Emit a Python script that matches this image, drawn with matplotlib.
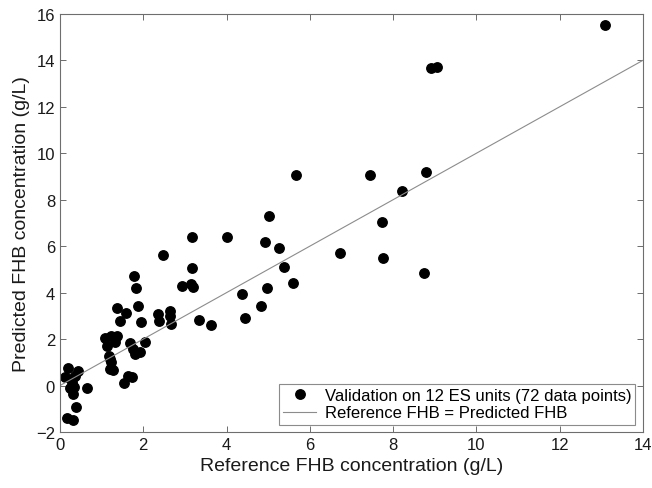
import matplotlib
matplotlib.use("Agg")
import matplotlib.pyplot as plt

plt.rcParams['font.family'] = ['Liberation Sans', 'DejaVu Sans']

ref_x = [0.19, 0.43, 0.13, 0.35, 0.29, 0.23, 0.34, 0.31, 0.66, 0.39, 0.18, 0.31, 0.27,
         1.07, 1.22, 1.37, 1.33, 1.14, 1.17, 1.22, 1.19, 1.27, 1.20,
         1.36, 1.45, 1.59,
         1.67, 1.75, 1.81, 1.91, 2.05, 1.63, 1.73, 1.53,
         1.88, 1.95, 1.78, 1.83,
         2.47, 2.35, 2.37, 2.64, 2.64, 2.66, 3.18, 3.18, 2.93, 3.15, 3.19, 3.34, 3.62,
         4.00, 4.92, 5.25, 5.03, 5.39, 4.98, 5.60, 4.37, 4.83, 4.44, 5.67,
         7.44, 8.78, 8.21, 7.73, 6.72, 7.77, 8.74, 8.90, 9.05, 13.10]
pred_y = [0.74, 0.64, 0.36, 0.42, 0.14, -0.12, -0.08, -0.36, -0.11, -0.94, -1.41, -1.47, 0.30,
          2.05, 2.12, 2.12, 1.89, 1.72, 1.29, 1.00, 0.71, 0.68, 1.15,
          3.33, 2.78, 3.11,
          1.83, 1.57, 1.36, 1.46, 1.86, 0.42, 0.36, 0.11,
          3.44, 2.75, 4.71, 4.19,
          5.64, 3.08, 2.77, 3.20, 3.01, 2.65, 6.41, 5.05, 4.29, 4.37, 4.24, 2.81, 2.61,
          6.41, 6.17, 5.92, 7.29, 5.11, 4.20, 4.42, 3.93, 3.44, 2.90, 9.07,
          9.07, 9.18, 8.37, 7.06, 5.72, 5.49, 4.83, 13.65, 13.71, 15.54]
identity = [0, 14]

fig = plt.figure(figsize=(6.52, 4.89), dpi=100)
ax = fig.add_axes([0.092, 0.1145, 0.894, 0.855])

ax.plot(ref_x, pred_y, 'o', color='black', markersize=6.8, linestyle='none',
        label='Validation on 12 ES units (72 data points)')
ax.plot(identity, identity, '-', color='#8c8c8c', linewidth=0.8,
        label='Reference FHB = Predicted FHB')

ax.set_xlim(0, 14)
ax.set_ylim(-2, 16)
ax.set_xticks(range(0, 15, 2))
ax.set_yticks(range(-2, 17, 2))
ax.tick_params(direction='in', top=True, right=True, length=4, width=0.6,
               color='#555555', labelsize=12, labelcolor='#1a1a1a')
for s in ax.spines.values():
    s.set_color('#6e6e6e')
    s.set_linewidth(0.8)

ax.set_xlabel('Reference FHB concentration (g/L)', fontsize=14, color='#1a1a1a')
ax.set_ylabel('Predicted FHB concentration (g/L)', fontsize=14, color='#1a1a1a')

leg = ax.legend(loc='lower right', fontsize=12, frameon=True, fancybox=False,
                borderpad=0.25, handlelength=2.0, handletextpad=0.5, labelspacing=0.15,
                borderaxespad=0.45)
leg.get_frame().set_edgecolor('#6e6e6e')
leg.get_frame().set_linewidth(0.8)

fig.savefig('out.png', dpi=100)
